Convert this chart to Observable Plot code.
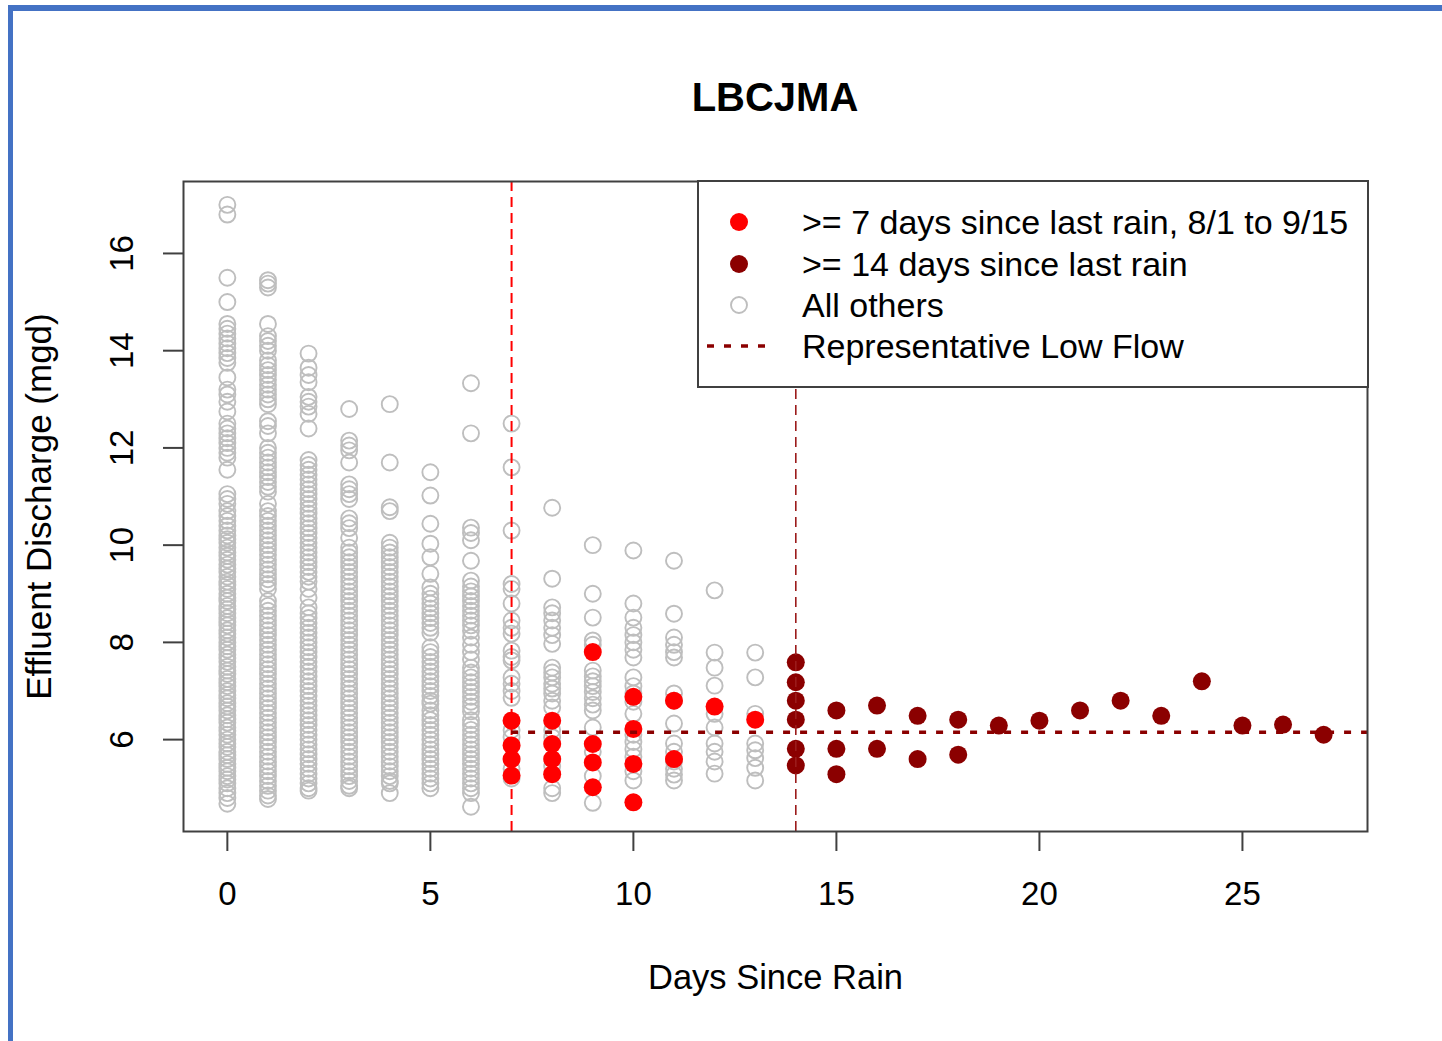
<!DOCTYPE html>
<html>
<head>
<meta charset="utf-8">
<script src="https://cdn.jsdelivr.net/npm/d3@7"></script>
<script src="https://cdn.jsdelivr.net/npm/@observablehq/plot@0.6"></script>
<style>
  html, body { margin: 0; padding: 0; background: #fff; }
  #page { position: relative; width: 1442px; height: 1041px; overflow: hidden; background: #fff;
          font-family: "Liberation Sans", Arial, sans-serif; }
  #titlebar { position: relative; height: 150px; }
  #title { position: absolute; top: 77px; left: 183px; width: 1184px; text-align: center;
           font-weight: bold; font-size: 40px; line-height: 40px; color: #000; }
  #legend { position: absolute; left: 697px; top: 180px; }
  #border { position: absolute; left: 8px; top: 5px; width: 1434px; height: 1036px;
            border-left: 5px solid #4472C4; border-top: 6px solid #4472C4; box-sizing: border-box;
            pointer-events: none; z-index: 10; }
</style>
</head>
<body>
<div id="page">
  <div id="titlebar"><div id="title">LBCJMA</div></div>
  <div id="chart"></div>
  <div id="legend"></div>
  <div id="border"></div>
</div>
<script>
// ---- Data ----
const chartTitle = "LBCJMA";
const xLabel = "Days Since Rain";
const yLabel = "Effluent Discharge (mgd)";
const xTicks = [0, 5, 10, 15, 20, 25];
const yTicks = [6, 8, 10, 12, 14, 16];
const lowFlow = 6.15;
const cutoffDays = [7, 14];
const legendLabels = [">= 7 days since last rain, 8/1 to 9/15", ">= 14 days since last rain", "All others", "Representative Low Flow"];

// "All others" grey open circles, one list per day since rain
const grey0 = [17.0,16.8,15.5,15.0,14.55,14.45,14.35,14.25,14.15,14.05,13.95,13.85,13.75,13.45,13.2,13.1,12.95,12.75,12.5,12.4,12.3,12.2,12.1,12.0,11.9,11.8,11.55,11.05,10.95,10.85,10.7,10.6,10.5,10.4,10.3,10.2,10.12,10.05,9.95,9.85,9.78,9.7,9.6,9.52,9.45,9.35,9.25,9.18,9.1,9.0,8.92,8.85,8.75,8.68,8.6,8.5,8.42,8.35,8.25,8.18,8.1,8.0,7.92,7.85,7.75,7.68,7.6,7.5,7.42,7.35,7.25,7.18,7.1,7.0,6.92,6.85,6.75,6.68,6.6,6.5,6.42,6.35,6.25,6.18,6.1,6.0,5.92,5.85,5.75,5.68,5.6,5.5,5.42,5.35,5.25,5.18,5.1,5.0,4.9,4.8,4.68];
const grey1 = [15.45,15.38,15.3,14.55,14.3,14.2,14.1,14.0,13.8,13.7,13.6,13.5,13.4,13.3,13.2,13.1,13.0,12.9,12.55,12.45,12.3,12.0,11.9,11.8,11.7,11.6,11.5,11.4,11.3,11.2,11.1,10.85,10.7,10.6,10.5,10.4,10.3,10.2,10.1,10.0,9.9,9.8,9.7,9.6,9.5,9.4,9.3,9.2,9.1,8.85,8.75,8.65,8.55,8.45,8.35,8.25,8.15,8.05,7.95,7.85,7.75,7.65,7.55,7.45,7.35,7.25,7.15,7.05,6.95,6.85,6.75,6.65,6.55,6.45,6.35,6.25,6.15,6.05,5.95,5.85,5.75,5.65,5.55,5.45,5.35,5.25,5.15,5.05,4.95,4.85,4.78];
const grey2 = [13.94,13.65,13.5,13.35,13.05,12.95,12.85,12.7,12.4,11.75,11.65,11.55,11.45,11.35,11.25,11.15,11.05,10.95,10.85,10.75,10.65,10.55,10.45,10.35,10.25,10.15,10.05,9.95,9.85,9.75,9.65,9.55,9.45,9.35,9.25,9.1,8.92,8.72,8.6,8.5,8.4,8.3,8.2,8.1,8.0,7.9,7.8,7.7,7.6,7.5,7.4,7.3,7.2,7.1,7.0,6.9,6.8,6.7,6.6,6.5,6.4,6.3,6.2,6.1,6.0,5.9,5.8,5.7,5.6,5.5,5.4,5.3,5.2,5.1,5.0,4.95];
const grey3 = [12.8,12.15,12.05,11.95,11.7,11.25,11.15,11.05,10.95,10.55,10.45,10.35,10.15,9.95,9.85,9.75,9.65,9.55,9.45,9.35,9.25,9.15,9.05,8.95,8.85,8.75,8.65,8.55,8.45,8.35,8.25,8.15,8.05,7.95,7.85,7.75,7.65,7.55,7.45,7.35,7.25,7.15,7.05,6.95,6.85,6.75,6.65,6.55,6.45,6.35,6.25,6.15,6.05,5.95,5.85,5.75,5.65,5.55,5.45,5.35,5.25,5.15,5.05,5.0];
const grey4 = [12.9,11.7,10.78,10.7,10.05,9.95,9.85,9.75,9.65,9.55,9.45,9.35,9.25,9.15,9.05,8.95,8.85,8.75,8.65,8.55,8.45,8.35,8.25,8.15,8.05,7.95,7.85,7.75,7.65,7.55,7.45,7.35,7.25,7.15,7.05,6.95,6.85,6.75,6.65,6.55,6.45,6.35,6.25,6.15,6.05,5.95,5.85,5.75,5.65,5.55,5.45,5.35,5.25,5.15,5.1,4.9];
const grey5 = [11.5,11.02,10.44,10.03,9.75,9.41,9.13,9.0,8.9,8.8,8.7,8.6,8.5,8.4,8.3,8.2,7.9,7.8,7.7,7.6,7.5,7.4,7.3,7.2,7.1,7.0,6.9,6.8,6.74,6.6,6.5,6.4,6.3,6.2,6.1,6.0,5.9,5.8,5.7,5.6,5.5,5.4,5.3,5.2,5.1,5.0];
const grey6 = [13.33,12.3,10.36,10.25,10.1,9.68,9.27,9.15,9.05,8.95,8.85,8.75,8.65,8.55,8.45,8.35,8.24,8.1,7.95,7.8,7.65,7.48,7.38,7.28,7.18,7.08,6.98,6.88,6.78,6.68,6.58,6.4,6.3,6.2,6.1,6.0,5.9,5.8,5.7,5.6,5.5,5.4,5.3,5.2,5.1,5.0,4.9,4.62];
const grey7 = [12.5,11.6,10.3,9.2,9.1,8.8,8.45,8.3,8.18,7.83,7.7,7.63,7.28,7.15,7.0,6.86,6.2,6.05,5.4,5.2];
const grey8 = [10.77,9.31,8.72,8.6,8.45,8.3,8.15,7.97,7.48,7.38,7.28,7.15,7.05,6.95,6.8,6.66,6.2,6.05,5.45,5.0,4.9];
const grey9 = [10.0,9.0,8.51,8.04,7.95,7.42,7.3,7.2,7.1,6.98,6.85,6.72,6.6,6.25,5.75,5.25,4.7];
const grey10 = [9.89,8.8,8.51,8.3,8.15,8.0,7.85,7.69,7.28,7.1,6.95,6.78,6.53,6.1,5.95,5.8,5.65,5.35,5.16];
const grey11 = [9.68,8.59,8.1,7.95,7.8,7.69,6.95,6.8,6.33,5.92,5.75,5.55,5.4,5.28,5.16];
const grey12 = [9.07,7.79,7.48,7.11,6.53,6.25,5.92,5.75,5.55,5.3];
const grey13 = [7.79,7.28,6.53,5.92,5.78,5.62,5.42,5.16];
const greyByDay = [grey0, grey1, grey2, grey3, grey4, grey5, grey6, grey7, grey8, grey9, grey10, grey11, grey12, grey13];

// >= 7 days since last rain, 8/1 to 9/15 (red)
const redDays = [7,7,7,7, 8,8,8,8, 9,9,9,9, 10,10,10,10, 11,11, 12, 13];
const redFlow = [6.39,5.88,5.6,5.26, 6.39,5.91,5.6,5.29, 7.8,5.91,5.53,5.02, 6.88,6.22,5.5,4.71, 6.8,5.6, 6.68, 6.41];

// >= 14 days since last rain (dark red)
const darkDays = [14,14,14,14,14,14, 15,15,15, 16,16, 17,17, 18,18, 19, 20, 21, 22, 23, 24, 25, 26, 27];
const darkFlow = [7.59,7.18,6.8,6.41,5.81,5.47, 6.6,5.81,5.29, 6.7,5.81, 6.49,5.6, 6.41,5.69, 6.29, 6.39, 6.6, 6.8, 6.49, 7.2, 6.29, 6.31, 6.1];

// ---- Build tables ----
const others = greyByDay.flatMap((vals, day) => vals.map(v => ({day, flow: v})));
const red = redDays.map((d, i) => ({day: d, flow: redFlow[i]}));
const dark = darkDays.map((d, i) => ({day: d, flow: darkFlow[i]}));

const FONT = '"Liberation Sans", Arial, sans-serif';
const AXIS = "#404040";
const xDomain = [-1.08, 28.08];

document.getElementById("title").textContent = chartTitle;

const chart = Plot.plot({
  width: 1442,
  height: 891,
  marginTop: 31,
  marginBottom: 210,
  marginLeft: 183,
  marginRight: 75,
  x: {domain: xDomain},
  y: {domain: [4.11, 17.48]},
  style: {fontFamily: FONT, fontSize: "33px", color: "#000", background: "#fff", overflow: "visible"},
  marks: [
    Plot.dot(others, {x: "day", y: "flow", r: 8, stroke: "#BEBEBE", strokeWidth: 1.9, fill: "none"}),
    Plot.dot(red, {x: "day", y: "flow", r: 9, fill: "#FF0000", stroke: "none"}),
    Plot.dot(dark, {x: "day", y: "flow", r: 9, fill: "#8B0000", stroke: "none"}),
    Plot.ruleX([cutoffDays[0]], {stroke: "#FF0000", strokeWidth: 2, strokeDasharray: "10,6"}),
    Plot.ruleX([cutoffDays[1]], {stroke: "#9B1B1B", strokeWidth: 1.6, strokeDasharray: "10,6"}),
    Plot.ruleY([lowFlow], {x1: cutoffDays[0], x2: xDomain[1], stroke: "#8B0000", strokeWidth: 3.5, strokeDasharray: "7,10"}),
    Plot.frame({stroke: AXIS, strokeWidth: 2}),
    Plot.axisX({ticks: xTicks, tickSize: 20, tickPadding: 30, stroke: AXIS, strokeWidth: 2,
                fontSize: 33, label: null}),
    Plot.axisX({ticks: [], tickSize: 0, fontSize: 34.5, label: xLabel, labelAnchor: "center",
                labelOffset: 157, labelArrow: "none"}),
    Plot.axisY({ticks: yTicks, tickSize: 20, tickPadding: 31, tickRotate: -90, stroke: AXIS, strokeWidth: 2,
                fontSize: 33, label: null}),
    Plot.axisY({ticks: [], tickSize: 0, fontSize: 35, label: yLabel, labelAnchor: "center",
                labelOffset: 157, labelArrow: "none"})
  ]
});
document.getElementById("chart").appendChild(chart);

// ---- Legend (drawn with the same symbols) ----
const ns = "http://www.w3.org/2000/svg";
const lg = document.createElementNS(ns, "svg");
lg.setAttribute("width", 672);
lg.setAttribute("height", 210);
lg.style.display = "block";
lg.style.fontFamily = FONT;
function el(tag, attrs) {
  const e = document.createElementNS(ns, tag);
  for (const k in attrs) e.setAttribute(k, attrs[k]);
  lg.appendChild(e);
  return e;
}
el("rect", {x: 1, y: 1, width: 670, height: 206, fill: "#fff", stroke: AXIS, "stroke-width": 2});
const rowsY = [42, 84, 125, 166];
el("circle", {cx: 42, cy: rowsY[0], r: 9, fill: "#FF0000"});
el("circle", {cx: 42, cy: rowsY[1], r: 9, fill: "#8B0000"});
el("circle", {cx: 42, cy: rowsY[2], r: 8, fill: "none", stroke: "#BEBEBE", "stroke-width": 1.9});
el("line", {x1: 10, x2: 72, y1: rowsY[3], y2: rowsY[3], stroke: "#8B0000", "stroke-width": 3.5, "stroke-dasharray": "7,10"});
legendLabels.forEach((t, i) => {
  const tx = el("text", {x: 105, y: rowsY[i] + 12, "font-size": 34, fill: "#000"});
  tx.textContent = t;
});
document.getElementById("legend").appendChild(lg);
</script>
</body>
</html>
